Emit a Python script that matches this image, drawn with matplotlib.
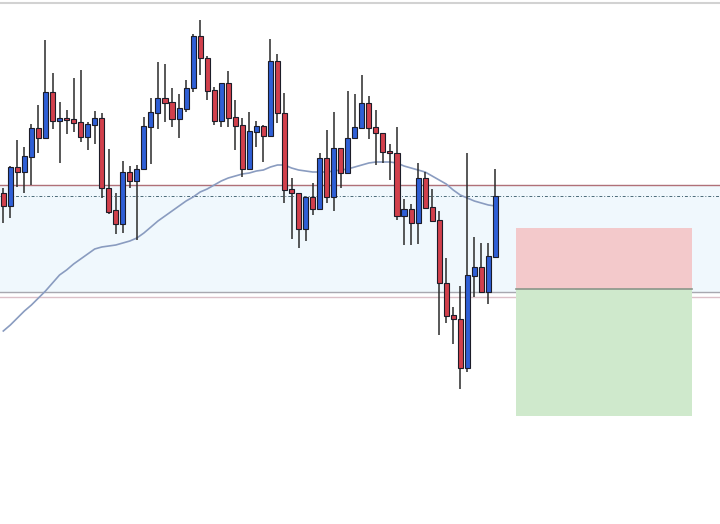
import numpy as np
import matplotlib
matplotlib.use("Agg")
import matplotlib.pyplot as plt
from matplotlib.patches import Rectangle

# Candle data (price units)
opens = [1.2614, 1.2588, 1.2666, 1.2656, 1.2686, 1.2744, 1.2724, 1.2816, 1.2758, 1.2764,
         1.2762, 1.2756, 1.2726, 1.2750, 1.2764, 1.2624, 1.2580, 1.2552, 1.2656, 1.2638,
         1.2662, 1.2746, 1.2774, 1.2804, 1.2796, 1.2762, 1.2782, 1.2824, 1.2928, 1.2884,
         1.2820, 1.2758, 1.2834, 1.2766, 1.2750, 1.2662, 1.2736, 1.2748, 1.2728, 1.2878,
         1.2774, 1.2622, 1.2614, 1.2542, 1.2606, 1.2582, 1.2684, 1.2606, 1.2704, 1.2654,
         1.2724, 1.2744, 1.2794, 1.2746, 1.2734, 1.2698, 1.2694, 1.2568, 1.2582, 1.2554,
         1.2644, 1.2586, 1.2560, 1.2434, 1.2370, 1.2362, 1.2264, 1.2448, 1.2466, 1.2416,
         1.2486]
highs = [1.2624, 1.2668, 1.2720, 1.2706, 1.2752, 1.2790, 1.2920, 1.2854, 1.2796, 1.2780,
         1.2844, 1.2860, 1.2756, 1.2778, 1.2774, 1.2702, 1.2614, 1.2678, 1.2668, 1.2670,
         1.2766, 1.2804, 1.2876, 1.2872, 1.2824, 1.2812, 1.2840, 1.2932, 1.2960, 1.2888,
         1.2826, 1.2834, 1.2858, 1.2800, 1.2764, 1.2776, 1.2758, 1.2750, 1.2922, 1.2892,
         1.2814, 1.2644, 1.2614, 1.2606, 1.2634, 1.2694, 1.2740, 1.2776, 1.2704, 1.2818,
         1.2812, 1.2850, 1.2808, 1.2780, 1.2734, 1.2712, 1.2746, 1.2602, 1.2592, 1.2674,
         1.2656, 1.2622, 1.2578, 1.2484, 1.2386, 1.2428, 1.2694, 1.2526, 1.2514, 1.2514,
         1.2662]
lows = [1.2554, 1.2564, 1.2626, 1.2614, 1.2630, 1.2694, 1.2722, 1.2742, 1.2674, 1.2732,
        1.2736, 1.2716, 1.2700, 1.2712, 1.2604, 1.2572, 1.2532, 1.2534, 1.2624, 1.2520,
        1.2660, 1.2672, 1.2742, 1.2756, 1.2746, 1.2724, 1.2776, 1.2816, 1.2850, 1.2800,
        1.2750, 1.2746, 1.2746, 1.2700, 1.2646, 1.2660, 1.2706, 1.2676, 1.2728, 1.2754,
        1.2594, 1.2522, 1.2504, 1.2518, 1.2570, 1.2580, 1.2594, 1.2578, 1.2624, 1.2654,
        1.2722, 1.2744, 1.2722, 1.2670, 1.2674, 1.2640, 1.2560, 1.2510, 1.2510, 1.2512,
        1.2584, 1.2556, 1.2330, 1.2354, 1.2312, 1.2222, 1.2256, 1.2406, 1.2414, 1.2392,
        1.2486]
closes = [1.2588, 1.2666, 1.2656, 1.2688, 1.2744, 1.2724, 1.2816, 1.2758, 1.2764, 1.2760,
          1.2754, 1.2726, 1.2752, 1.2764, 1.2624, 1.2576, 1.2552, 1.2656, 1.2638, 1.2662,
          1.2748, 1.2776, 1.2804, 1.2794, 1.2762, 1.2784, 1.2824, 1.2928, 1.2884, 1.2818,
          1.2758, 1.2834, 1.2764, 1.2748, 1.2662, 1.2738, 1.2748, 1.2728, 1.2878, 1.2774,
          1.2620, 1.2614, 1.2542, 1.2606, 1.2582, 1.2684, 1.2606, 1.2704, 1.2654, 1.2724,
          1.2746, 1.2794, 1.2744, 1.2734, 1.2696, 1.2694, 1.2568, 1.2582, 1.2554, 1.2644,
          1.2584, 1.2558, 1.2434, 1.2368, 1.2362, 1.2264, 1.2450, 1.2466, 1.2416, 1.2488,
          1.2608]
ma = [1.2338, 1.2350, 1.2364, 1.2378, 1.2390, 1.2404, 1.2418, 1.2434, 1.2450, 1.2460,
      1.2472, 1.2482, 1.2492, 1.2502, 1.2506, 1.2508, 1.2510, 1.2514, 1.2518, 1.2524,
      1.2534, 1.2546, 1.2558, 1.2568, 1.2578, 1.2588, 1.2598, 1.2606, 1.2616, 1.2622,
      1.2630, 1.2638, 1.2644, 1.2648, 1.2652, 1.2654, 1.2658, 1.2660, 1.2666, 1.2670,
      1.2670, 1.2664, 1.2660, 1.2658, 1.2656, 1.2656, 1.2656, 1.2658, 1.2660, 1.2662,
      1.2666, 1.2670, 1.2674, 1.2676, 1.2676, 1.2676, 1.2674, 1.2668, 1.2664, 1.2660,
      1.2656, 1.2648, 1.2640, 1.2632, 1.2620, 1.2610, 1.2604, 1.2598, 1.2594, 1.2590,
      1.2588]

# Horizontal levels
top_level = 1.2995
zone_top = 1.2630
zone_mid = 1.2608
zone_bottom = 1.24166
zone_bottom2 = 1.24066

# Position tool (short): stop, entry, target, start/end bar
stop_price = 1.25434
entry_price = 1.24226
target_price = 1.2168
pos_start = 72.9
pos_end = 98.0

BULL = '#2f5fd6'
BEAR = '#d2404c'


def draw_candles(ax):
    x = np.arange(len(opens))
    o = np.array(opens)
    c = np.array(closes)
    ax.vlines(x, lows, highs, color='#2a2a2a', lw=1.1, zorder=3)
    colors = [BULL if cc >= oo else BEAR for oo, cc in zip(o, c)]
    bottoms = np.minimum(o, c)
    heights = np.maximum(np.abs(c - o), 0.00025)
    ax.bar(x, heights, bottom=bottoms, width=0.72, color=colors,
           edgecolor='#1c1c28', linewidth=0.8, zorder=4)


def main():
    fig = plt.figure(figsize=(7.2, 5.24), dpi=100)
    ax = fig.add_axes([0, 0, 1, 1])
    ax.set_xlim(-0.47, 101.95)
    ax.set_ylim(1.1952, 1.3)
    ax.axis('off')

    # supply/demand zone
    ax.axhspan(zone_bottom, zone_top, color='#f0f8fd', zorder=0)
    ax.axhline(top_level, color='#d2d2d2', lw=1.5, zorder=1)
    ax.axhline(zone_top, color='#b07078', lw=1.0, zorder=1)
    ax.axhline(zone_mid, color='#4a6a78', lw=0.7, ls=(0, (3, 2, 1, 2)), zorder=1)
    ax.axhline(zone_bottom, color='#a8a8b0', lw=1.0, zorder=1)
    ax.axhline(zone_bottom2, color='#dcc0c8', lw=1.0, zorder=1)

    # risk/reward boxes
    ax.add_patch(Rectangle((pos_start, entry_price), pos_end - pos_start,
                           stop_price - entry_price, facecolor='#f3c9cb',
                           edgecolor='none', zorder=2))
    ax.add_patch(Rectangle((pos_start, target_price), pos_end - pos_start,
                           entry_price - target_price, facecolor='#cfe9cc',
                           edgecolor='none', zorder=2))
    ax.plot([pos_start, pos_end], [entry_price, entry_price], color='#8a968a',
            lw=1.2, zorder=2)

    # moving average
    ax.plot(np.arange(len(ma)), ma, color='#8a9cc0', lw=1.2, zorder=2)

    draw_candles(ax)

    fig.savefig('out.png', dpi=100, facecolor='white')


if __name__ == "__main__":
    main()
